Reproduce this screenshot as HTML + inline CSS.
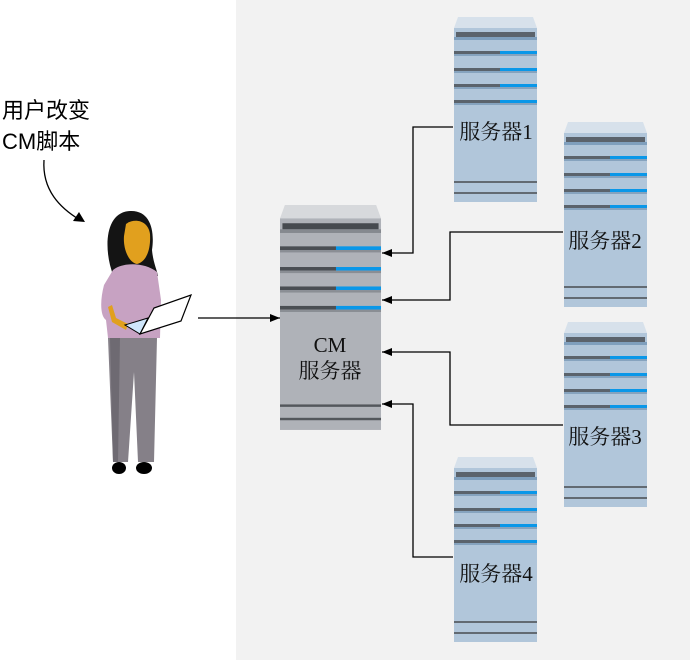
<!DOCTYPE html>
<html><head><meta charset="utf-8"><style>
html,body{margin:0;padding:0;background:#fff}
svg{display:block}
.s{font-family:"Liberation Serif","Noto Serif CJK SC",serif;font-size:21px;fill:#111}
</style></head><body>
<svg width="690" height="660" viewBox="0 0 690 660" xmlns="http://www.w3.org/2000/svg">
<defs>
<g id="srv">
<polygon points="4,0 79,0 83,11 0,11" fill="#d7e1eb"/>
<rect x="0" y="11" width="83" height="174" fill="#b1c6da"/>
<rect x="2" y="15" width="79" height="5" fill="#5b636c"/>
<rect x="0" y="20" width="83" height="3" fill="#7f9fbd"/>
<g id="st"><rect x="0" y="34" width="46" height="3" fill="#5b636c"/><rect x="46" y="34" width="37" height="3" fill="#0a97e8"/><rect x="0" y="37" width="83" height="2" fill="#86a3be"/></g>
<use href="#st" y="17"/><use href="#st" y="33"/><use href="#st" y="49"/>
<rect x="0" y="164" width="83" height="2" fill="#626a72"/>
<rect x="0" y="175" width="83" height="2" fill="#626a72"/>
</g>
<g id="cms">
<polygon points="4,0 79,0 83,11 0,11" fill="#d7d9dc"/>
<rect x="0" y="11" width="83" height="174" fill="#afb2b8"/>
<rect x="2" y="15" width="79" height="5" fill="#464a4f"/>
<rect x="0" y="20" width="83" height="3" fill="#85898f"/>
<g id="st2"><rect x="0" y="34" width="46" height="3" fill="#4a4e53"/><rect x="46" y="34" width="37" height="3" fill="#0a97e8"/><rect x="0" y="37" width="83" height="2" fill="#8a8e94"/></g>
<use href="#st2" y="17"/><use href="#st2" y="33"/><use href="#st2" y="49"/>
<rect x="0" y="164" width="83" height="2" fill="#53575c"/>
<rect x="0" y="175" width="83" height="2" fill="#53575c"/>
</g>
<marker id="ar" markerWidth="10" markerHeight="8" refX="10" refY="4" orient="auto" markerUnits="userSpaceOnUse"><polygon points="0,0 10,4 0,8" fill="#000"/></marker>
</defs>
<rect x="236" y="0" width="454" height="660" fill="#f2f2f2"/>

<use href="#cms" transform="translate(280,205) scale(1.217,1.216)"/>
<text class="s" x="330" y="352" text-anchor="middle">CM</text>
<text class="s" x="330" y="378" text-anchor="middle">服务器</text>

<use href="#srv" x="454" y="17"/>
<use href="#srv" x="564" y="122"/>
<use href="#srv" x="564" y="322"/>
<use href="#srv" x="454" y="457"/>
<text class="s" x="496" y="139" text-anchor="middle">服务器1</text>
<text class="s" x="605" y="248" text-anchor="middle">服务器2</text>
<text class="s" x="605" y="444" text-anchor="middle">服务器3</text>
<text class="s" x="496" y="581" text-anchor="middle">服务器4</text>

<g fill="none" stroke="#000" stroke-width="1.3">
<path d="M198,318 H280" marker-end="url(#ar)"/>
<path d="M453,127 H413 V253 H382" marker-end="url(#ar)"/>
<path d="M563,232 H450 V300 H382" marker-end="url(#ar)"/>
<path d="M563,425 H450 V352 H382" marker-end="url(#ar)"/>
<path d="M453,557 H413 V404 H382" marker-end="url(#ar)"/>
<path d="M44,160 C42,190 60,208 80,220"/>
</g>
<polygon points="73,221 85,222 79,212" fill="#000"/>

<text x="2" y="118" style="font-family:'Liberation Sans','Noto Sans CJK SC',sans-serif;font-size:22px" fill="#000">用户改变</text>
<text x="2" y="149" style="font-family:'Liberation Sans','Noto Sans CJK SC',sans-serif;font-size:22px" fill="#000">CM脚本</text>

<!-- person -->
<path d="M110,265 C104,240 108,212 130,211 C150,210 155,230 152,250 C153,262 157,270 158,276 L112,272 Z" fill="#141414"/>
<path d="M126,224 C134,218 148,220 150,234 C151,250 146,262 137,264 C128,262 123,248 124,236 Z" fill="#e1a01e"/>
<path d="M113,270 C122,262 145,262 157,272 L161,300 L160,338 L108,338 L106,320 C100,316 100,300 104,285 Z" fill="#c7a2c2"/>
<path d="M108,338 H157 L154,462 H138 L134,372 L128,462 H113 Z" fill="#858088"/>
<path d="M110,338 H120 L118,462 H113 Z" fill="#6e6a72"/>
<ellipse cx="119" cy="468" rx="7" ry="6" fill="#000"/>
<ellipse cx="144" cy="468" rx="8" ry="6" fill="#000"/>
<path d="M108,307 L112,322 L126,330 L128,324 L116,318 L112,305 Z" fill="#e1a01e"/>
<polygon points="125,325 148,318 140,334" fill="#cfe6fb" stroke="#000" stroke-width="1"/>
<polygon points="140,334 154,308 191,295 181,321" fill="#fff" stroke="#000" stroke-width="1.2"/>
</svg>
</body></html>
